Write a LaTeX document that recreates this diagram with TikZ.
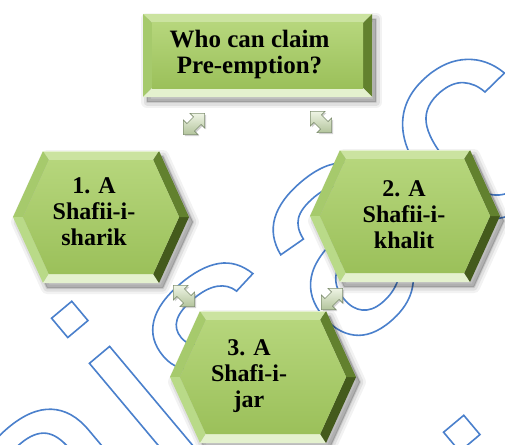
\documentclass[tikz,border=0pt]{standalone}
\usepackage{fontspec}
\setmainfont{Liberation Serif}
\newfontfamily\wmfont{Liberation Sans}
\usetikzlibrary{shapes.arrows,shadows}

\definecolor{wmblue}{HTML}{4A7FCC}
\definecolor{faceA}{HTML}{B6D67C}
\definecolor{faceB}{HTML}{9BC05A}
\definecolor{bevTop}{HTML}{CBE3A0}
\definecolor{bevUL}{HTML}{A6CA6C}
\definecolor{bevLL}{HTML}{B9DA88}
\definecolor{bevBot}{HTML}{E4F1CE}
\definecolor{bevLR}{HTML}{445A1C}
\definecolor{bevUR}{HTML}{62812E}
\definecolor{iconA}{HTML}{EEF4E4}
\definecolor{iconB}{HTML}{B3C49C}
\definecolor{iconEdge}{HTML}{7F8F70}

% stroked (outline) glyphs for the background lettering
\newcommand\outlinetext[1]{\special{pdf:literal direct 1 Tr 1.6 w 0.29 0.50 0.80 RG}#1\special{pdf:literal direct 0 Tr}}

% soft shadow, bevel facets and face of a rectangle: x0 y0 x1 y1
\newcommand\bevelrect[4]{%
  \foreach \sw/\op in {12/0.05,7/0.07,2/0.10}
    \filldraw[black,opacity=\op,line width=\sw pt,line join=round,shift={(4,5)}] (#1,#2) rectangle (#3,#4);
  \fill[bevTop] (#1,#2) -- (#3,#2) -- (#3-9,#2+9) -- (#1+9,#2+9) -- cycle;
  \fill[bevUL] (#1,#2) -- (#1+9,#2+9) -- (#1+9,#4-9) -- (#1,#4) -- cycle;
  \fill[bevUR] (#3,#2) -- (#3,#4) -- (#3-9,#4-9) -- (#3-9,#2+9) -- cycle;
  \fill[bevBot] (#1,#4) -- (#1+9,#4-9) -- (#3-9,#4-9) -- (#3,#4) -- cycle;
  \draw[white,opacity=0.5,line width=1pt] (#1,#2) -- (#3,#2);
  \shade[top color=faceA,bottom color=faceB] (#1+9,#2+9) rectangle (#3-9,#4-9);
}

% soft shadow, bevel facets and face of a flat hexagon: centre, half-width
\newcommand\bevelhex[2]{%
  \begin{scope}[shift={#1}]
    \foreach \sw/\op in {12/0.05,7/0.07,2/0.10}
      \filldraw[black,opacity=\op,line width=\sw pt,line join=round,shift={(4,5)}]
        (-#2,0) -- (-#2+30,-66) -- (#2-30,-66) -- (#2,0) -- (#2-30,66) -- (-#2+30,66) -- cycle;
    \coordinate (oL)  at (-#2,0);
    \coordinate (oTL) at (-#2+30,-66);
    \coordinate (oTR) at (#2-30,-66);
    \coordinate (oR)  at (#2,0);
    \coordinate (oBR) at (#2-30,66);
    \coordinate (oBL) at (-#2+30,66);
    \coordinate (iL)  at (-#2+9.9,0);
    \coordinate (iTL) at (-#2+35.8,-57);
    \coordinate (iTR) at (#2-35.8,-57);
    \coordinate (iR)  at (#2-9.9,0);
    \coordinate (iBR) at (#2-35.8,57);
    \coordinate (iBL) at (-#2+35.8,57);
    \fill[bevTop] (oTL) -- (oTR) -- (iTR) -- (iTL) -- cycle;
    \fill[bevUL]  (oL) -- (oTL) -- (iTL) -- (iL) -- cycle;
    \fill[bevLL]  (oL) -- (iL) -- (iBL) -- (oBL) -- cycle;
    \fill[bevBot] (oBL) -- (iBL) -- (iBR) -- (oBR) -- cycle;
    \fill[bevLR]  (oBR) -- (iBR) -- (iR) -- (oR) -- cycle;
    \fill[bevUR]  (oR) -- (iR) -- (iTR) -- (oTR) -- cycle;
    \draw[white,opacity=0.5,line width=1pt] (oTL) -- (oTR);
    \shade[top color=faceA,bottom color=faceB]
      (iL) -- (iTL) -- (iTR) -- (iR) -- (iBR) -- (iBL) -- cycle;
  \end{scope}
}

\tikzset{
  wmark/.style={anchor=base west,rotate=40,inner sep=0pt,text=wmblue,
    font=\wmfont\fontsize{300}{300}\selectfont},
  boxtext/.style={align=center,inner sep=0pt,font=\bfseries\fontsize{25}{26}\selectfont},
  hextext/.style={align=center,inner sep=0pt,font=\bfseries\fontsize{24}{26}\selectfont},
  linkicon/.style={double arrow,double arrow head extend=5pt,minimum height=30pt,
    minimum width=20pt,text height=10pt,text depth=0pt,inner sep=0pt,
    draw=iconEdge,line width=0.6pt,top color=iconA,bottom color=iconB,
    drop shadow={shadow xshift=1.5pt,shadow yshift=-1.5pt,opacity=0.35}},
}

\begin{document}
\begin{tikzpicture}[x=1pt,y=-1pt]
\useasboundingbox (0,0) rectangle (505,444);
\fill[white] (0,0) rectangle (505,444);

% background lettering
\begin{scope}
  \clip (0,0) rectangle (505,444);
  \node (wm1) [wmark] at (48,605) {\outlinetext{aisac}};
  \node (wm2) [wmark] at (440,719) {\outlinetext{aisac}};
\end{scope}

% boxes
\bevelrect{143}{14}{372}{97}
\bevelhex{(101,217)}{88}
\bevelhex{(405,216)}{95}
\bevelhex{(263,377)}{93}

% texts
\node (q)  [boxtext] at (249.5,54) {Who can claim\\Pre-emption?};
\node (h1) [hextext] at (94,212)   {1. A\\Shafii-i-\\sharik};
\node (h2) [hextext] at (404,215)  {2. A\\Shafii-i-\\khalit};
\node (h3) [hextext] at (249,376.5) {3. A\\Shafi-i-\\jar};

% double-headed link icons
\node (a1) [linkicon,rotate=45]  at (194,124) {};
\node (a2) [linkicon,rotate=-45] at (321,122) {};
\node (a3) [linkicon,rotate=-45] at (184,296) {};
\node (a4) [linkicon,rotate=45]  at (332,299) {};
\end{tikzpicture}
\end{document}
